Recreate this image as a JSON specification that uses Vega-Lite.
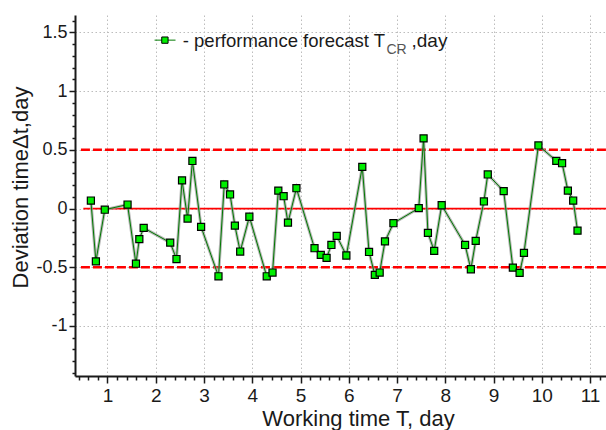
{
  "$schema": "https://vega.github.io/schema/vega-lite/v6.json",
  "width": 531,
  "height": 361,
  "autosize": "none",
  "padding": {"left": 75, "top": 15, "right": 0, "bottom": 54},
  "background": "white",
  "config": {"view": {"stroke": null}, "font": "Liberation Sans"},
  "datasets": {
    "points": [
      {"x": 0.656, "y": 0.068}, {"x": 0.76, "y": -0.45}, {"x": 0.944, "y": -0.01},
      {"x": 1.416, "y": 0.034}, {"x": 1.59, "y": -0.47}, {"x": 1.66, "y": -0.26},
      {"x": 1.75, "y": -0.165}, {"x": 2.30, "y": -0.29}, {"x": 2.43, "y": -0.43},
      {"x": 2.545, "y": 0.24}, {"x": 2.66, "y": -0.085}, {"x": 2.76, "y": 0.405},
      {"x": 2.94, "y": -0.156}, {"x": 3.30, "y": -0.577}, {"x": 3.42, "y": 0.205},
      {"x": 3.54, "y": 0.12}, {"x": 3.64, "y": -0.145}, {"x": 3.75, "y": -0.366},
      {"x": 3.94, "y": -0.07}, {"x": 4.30, "y": -0.577}, {"x": 4.42, "y": -0.545},
      {"x": 4.54, "y": 0.153}, {"x": 4.65, "y": 0.105}, {"x": 4.74, "y": -0.12},
      {"x": 4.915, "y": 0.173}, {"x": 5.29, "y": -0.338}, {"x": 5.42, "y": -0.395},
      {"x": 5.54, "y": -0.42}, {"x": 5.64, "y": -0.31}, {"x": 5.75, "y": -0.233},
      {"x": 5.95, "y": -0.40}, {"x": 6.28, "y": 0.355}, {"x": 6.42, "y": -0.37},
      {"x": 6.54, "y": -0.565}, {"x": 6.64, "y": -0.545}, {"x": 6.75, "y": -0.28},
      {"x": 6.925, "y": -0.125}, {"x": 7.45, "y": 0.003}, {"x": 7.55, "y": 0.597},
      {"x": 7.64, "y": -0.207}, {"x": 7.77, "y": -0.36}, {"x": 7.925, "y": 0.028},
      {"x": 8.41, "y": -0.31}, {"x": 8.53, "y": -0.517}, {"x": 8.63, "y": -0.275},
      {"x": 8.80, "y": 0.06}, {"x": 8.88, "y": 0.29}, {"x": 9.21, "y": 0.148},
      {"x": 9.40, "y": -0.503}, {"x": 9.54, "y": -0.548}, {"x": 9.63, "y": -0.378},
      {"x": 9.93, "y": 0.537}, {"x": 10.30, "y": 0.406}, {"x": 10.42, "y": 0.386},
      {"x": 10.54, "y": 0.153}, {"x": 10.65, "y": 0.068}, {"x": 10.74, "y": -0.188}
    ],
    "limits": [
      {"x": 0.45, "x2": 11.33, "y": 0.5},
      {"x": 0.45, "x2": 11.33, "y": -0.5}
    ],
    "zero": [{"x": 0.5, "x2": 11.33, "y": 0}],
    "legline": [{"x": 1.976, "y": 1.434}, {"x": 2.41, "y": 1.434}],
    "legpoint": [{"x": 2.19, "y": 1.434}],
    "legtext": [{"x": 2.56, "y": 1.374, "t": "- performance forecast T"}],
    "legsub": [{"x": 6.78, "y": 1.32, "t": "CR"}],
    "legtail": [{"x": 7.3, "y": 1.374, "t": " ,day"}]
  },
  "encoding": {
    "x": {
      "field": "x", "type": "quantitative",
      "scale": {"domain": [0.327, 11.33], "nice": false, "zero": false},
      "axis": {
        "orient": "bottom",
        "title": "Working time T, day",
        "values": [0.4, 0.6, 0.8, 1, 1.2, 1.4, 1.6, 1.8, 2, 2.2, 2.4, 2.6, 2.8, 3, 3.2, 3.4, 3.6, 3.8, 4, 4.2, 4.4, 4.6, 4.8, 5, 5.2, 5.4, 5.6, 5.8, 6, 6.2, 6.4, 6.6, 6.8, 7, 7.2, 7.4, 7.6, 7.8, 8, 8.2, 8.4, 8.6, 8.8, 9, 9.2, 9.4, 9.6, 9.8, 10, 10.2, 10.4, 10.6, 10.8, 11, 11.2],
        "labelExpr": "abs(datum.value - round(datum.value)) < 0.001 ? toString(round(datum.value)) : ''",
        "labelOverlap": false, "labelFlush": false, "labelBound": false,
        "labelFontSize": 19, "labelColor": "#1a1a1a", "labelPadding": 3,
        "domainColor": "#1a1a1a", "domainWidth": 2,
        "tickColor": "#1a1a1a", "tickWidth": 1.5,
        "tickSize": {"condition": {"test": "abs(datum.value - round(datum.value)) < 0.001", "value": 7}, "value": 4},
        "grid": true, "gridColor": "#bdbdbd", "gridDash": [1.5, 2.5], "gridWidth": 1,
        "gridOpacity": {"condition": {"test": "abs(datum.value - round(datum.value)) < 0.001", "value": 1}, "value": 0},
        "titleFontSize": 22, "titleFontWeight": "normal", "titleColor": "#1a1a1a",
        "titleX": 283, "titleY": 49, "titleBaseline": "alphabetic"
      }
    },
    "y": {
      "field": "y", "type": "quantitative",
      "scale": {"domain": [-1.426, 1.648], "nice": false, "zero": false},
      "axis": {
        "title": "Deviation timeΔt,day",
        "values": [-1.4, -1.3, -1.2, -1.1, -1, -0.9, -0.8, -0.7, -0.6, -0.5, -0.4, -0.3, -0.2, -0.1, 0, 0.1, 0.2, 0.3, 0.4, 0.5, 0.6, 0.7, 0.8, 0.9, 1, 1.1, 1.2, 1.3, 1.4, 1.5, 1.6],
        "labelExpr": "abs(datum.value * 2 - round(datum.value * 2)) < 0.001 ? toString(round(datum.value * 10) / 10) : ''",
        "labelOverlap": false, "labelFlush": false, "labelBound": false,
        "labelFontSize": 18, "labelColor": "#1a1a1a", "labelPadding": 2,
        "domainColor": "#1a1a1a", "domainWidth": 2,
        "tickColor": "#1a1a1a", "tickWidth": 1.5,
        "tickSize": {"condition": {"test": "abs(datum.value * 2 - round(datum.value * 2)) < 0.001", "value": 6}, "value": 3},
        "grid": true, "gridColor": "#bdbdbd", "gridDash": [1.5, 2.5], "gridWidth": 1,
        "gridOpacity": {"condition": {"test": "abs(datum.value * 2 - round(datum.value * 2)) < 0.001", "value": 1}, "value": 0},
        "titleFontSize": 22, "titleFontWeight": "normal", "titleColor": "#1a1a1a",
        "titleAngle": 270, "titleX": -48, "titleY": 172, "titleBaseline": "alphabetic"
      }
    }
  },
  "layer": [
    {
      "data": {"name": "limits"},
      "mark": {"type": "rule", "color": "#ff0000", "strokeWidth": 2.4, "strokeDash": [9, 3]},
      "encoding": {"x2": {"field": "x2"}}
    },
    {
      "data": {"name": "zero"},
      "mark": {"type": "rule", "color": "#ff0000", "strokeWidth": 1.8},
      "encoding": {"x2": {"field": "x2"}}
    },
    {
      "data": {"name": "points"},
      "mark": {"type": "line", "color": "#9a9a9a", "strokeWidth": 3, "opacity": 0.7},
      "encoding": {}
    },
    {
      "data": {"name": "points"},
      "mark": {"type": "line", "color": "#007a00", "strokeWidth": 1},
      "encoding": {}
    },
    {
      "data": {"name": "points"},
      "mark": {"type": "point", "shape": "square", "filled": true, "fill": "#00ee00", "stroke": "#000000", "strokeWidth": 1.2, "size": 50, "opacity": 1},
      "encoding": {}
    },
    {
      "data": {"name": "legline"},
      "mark": {"type": "line", "color": "#007a00", "strokeWidth": 1},
      "encoding": {}
    },
    {
      "data": {"name": "legpoint"},
      "mark": {"type": "point", "shape": "square", "filled": true, "fill": "#00ee00", "stroke": "#000000", "strokeWidth": 1, "size": 40, "opacity": 1},
      "encoding": {}
    },
    {
      "data": {"name": "legtext"},
      "mark": {"type": "text", "align": "left", "baseline": "alphabetic", "fontSize": 18.5, "color": "#1a1a1a"},
      "encoding": {"text": {"field": "t"}}
    },
    {
      "data": {"name": "legsub"},
      "mark": {"type": "text", "align": "left", "baseline": "alphabetic", "fontSize": 14, "color": "#555555"},
      "encoding": {"text": {"field": "t"}}
    },
    {
      "data": {"name": "legtail"},
      "mark": {"type": "text", "align": "left", "baseline": "alphabetic", "fontSize": 19, "color": "#1a1a1a"},
      "encoding": {"text": {"field": "t"}}
    }
  ]
}
